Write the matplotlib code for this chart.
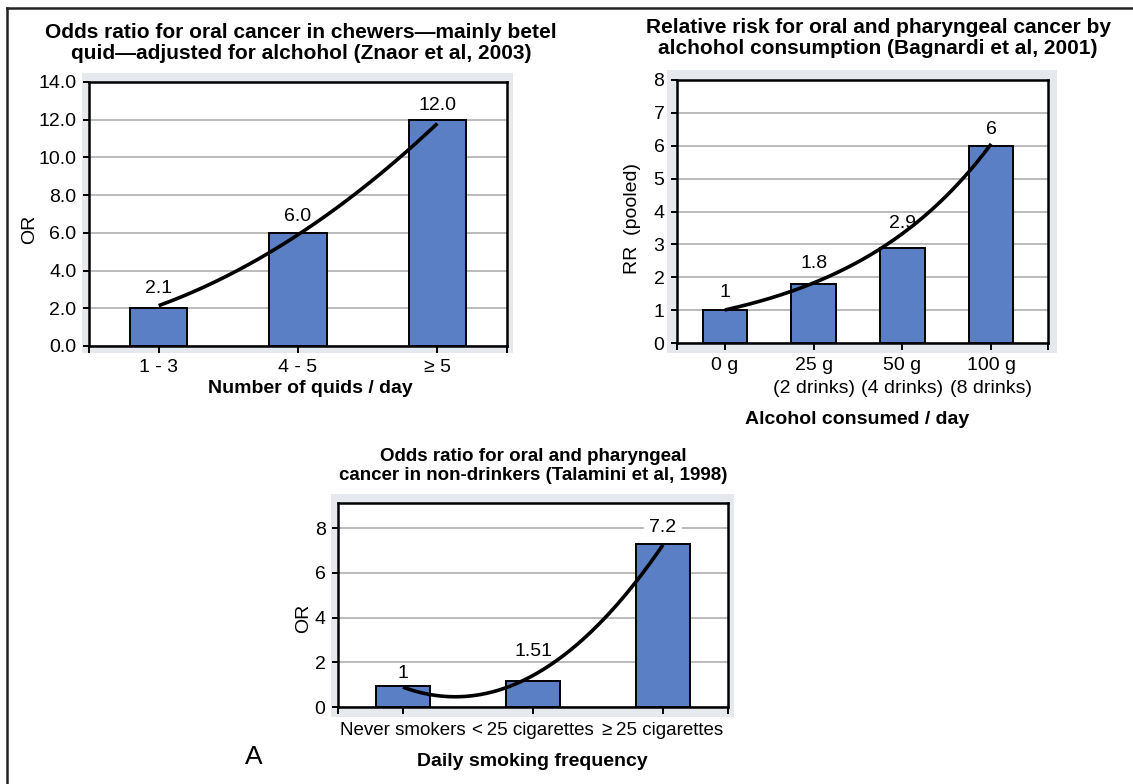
import numpy as np
import matplotlib
matplotlib.use("Agg")
import matplotlib.pyplot as plt
from matplotlib.patches import Rectangle
from matplotlib.lines import Line2D

plt.rcParams['font.family'] = ['Liberation Sans', 'DejaVu Sans']

# data
quid_cats = ['1 - 3', '4 - 5', '\u2265 5']
quid_bars = [2.0, 6.0, 12.0]
quid_labels = ['2.1', '6.0', '12.0']
quid_trend_x = [0, 1, 2]
quid_trend_y = [2.14, 5.9, 11.8]

alc_cats = ['0 g', '25 g\n(2 drinks)', '50 g\n(4 drinks)', '100 g\n(8 drinks)']
alc_bars = [1.0, 1.8, 2.88, 6.0]
alc_labels = ['1', '1.8', '2.9', '6']
alc_trend_x = [0, 1, 2, 3]
alc_trend_y = [1.0, 1.84, 3.33, 6.04]

smk_cats = ['Never smokers', '<\u200925 cigarettes', '\u2265\u200925 cigarettes']
smk_bars = [0.92, 1.18, 7.29]
smk_labels = ['1', '1.51', '7.2']
smk_trend_x = [0, 0.35, 1, 2]
smk_trend_y = [0.84, 0.55, 1.36, 7.26]

W, H = 1133, 784
fig = plt.figure(figsize=(W / 100, H / 100), dpi=100)

BAR = '#5b7fc4'
PANEL = '#e5e9ee'
GRID = '#a8a8a8'


def px_axes(l, t, r, b):
    return fig.add_axes([l / W, 1 - b / H, (r - l) / W, (b - t) / H])


def panel(l, t, r, b):
    fig.add_artist(Rectangle((l / W, 1 - b / H), (r - l) / W, (b - t) / H,
                             transform=fig.transFigure, facecolor=PANEL,
                             edgecolor='none', zorder=0))


def draw_chart(ax, cats, bars, labels, xlim, ylim, yticks, width, fmt,
               tx, ty, kind, lab_off, xpad, tsize=14, boxed=()):
    x = np.arange(len(cats))
    ax.set_zorder(1)
    ax.set_facecolor('white')
    ax.bar(x, bars, width=width, color=BAR, edgecolor='black',
           linewidth=1.4, zorder=2)
    # fitted trend line
    xs = np.linspace(tx[0], tx[-1], 200)
    if kind == 'exp':
        k, c = np.polyfit(tx, np.log(ty), 1)
        ys = np.exp(c + k * xs)
    else:
        ys = np.polyval(np.polyfit(tx, ty, 2), xs)
    ax.plot(xs, ys, color='black', lw=2.6, zorder=4, solid_capstyle='butt')
    for i, (xi, b, s, off) in enumerate(zip(x, bars, labels, lab_off)):
        box = None
        if i in boxed:
            box = dict(boxstyle='square,pad=0.3', fc='white', ec='none')
        ax.annotate(s, (xi, b), xytext=(0, off), textcoords='offset pixels',
                    ha='center', va='center', fontsize=14, zorder=1.5,
                    bbox=box)
    ax.set_xlim(*xlim)
    ax.set_ylim(*ylim)
    ax.set_yticks(yticks)
    ax.set_yticklabels([fmt.format(v) for v in yticks])
    ax.set_xticks(x)
    ax.set_xticklabels(cats, linespacing=1.45)
    ax.set_xticks(list(xlim), minor=True)
    ax.yaxis.grid(True, color=GRID, lw=1.1)
    ax.set_axisbelow(True)
    for sp in ax.spines.values():
        sp.set_linewidth(1.8)
        sp.set_zorder(5)
    ax.tick_params(axis='y', which='major', length=4, width=1.4,
                   labelsize=14, pad=5)
    ax.tick_params(axis='x', which='both', length=5, width=1.4,
                   labelsize=tsize, pad=xpad)
    ax.tick_params(axis='x', which='minor', labelbottom=False)


# chart 1: betel quid
panel(82, 73, 513, 353)
ax1 = px_axes(89, 82, 507, 346)
draw_chart(ax1, quid_cats, quid_bars, quid_labels, (-0.5, 2.5), (0, 14),
           np.arange(0, 15, 2), 0.41, '{:.1f}', quid_trend_x, quid_trend_y,
           'poly', [20, 16, 14], 4)
ax1.set_ylabel('OR', fontsize=14, labelpad=0)
ax1.yaxis.label.set_y(0.443)

# chart 2: alcohol
panel(667, 70, 1057, 353)
ax2 = px_axes(677, 80, 1048, 343)
draw_chart(ax2, alc_cats, alc_bars, alc_labels, (-0.54, 3.64), (0, 8),
           np.arange(0, 9, 1), 0.5, '{:.0f}', alc_trend_x, alc_trend_y,
           'exp', [18, 20, 25, 16], 5)
ax2.set_ylabel('RR  (pooled)', fontsize=14, labelpad=9)
ax2.yaxis.label.set_y(0.475)

# chart 3: smoking
panel(331, 494, 734, 717)
ax3 = px_axes(338, 503, 728, 707)
draw_chart(ax3, smk_cats, smk_bars, smk_labels, (-0.5, 2.5), (0, 9.12),
           np.arange(0, 9, 2), 0.41, '{:.0f}', smk_trend_x, smk_trend_y,
           'poly', [13, 29, 16], 6, tsize=13.5, boxed=(2,))
ax3.set_ylabel('OR', fontsize=14, labelpad=2)
ax3.yaxis.label.set_y(0.436)

# titles and axis titles
def ftext(x, y, s, **kw):
    fig.text(x / W, 1 - y / H, s, ha='center', va='center', **kw)

ftext(301, 43, 'Odds ratio for oral cancer in chewers\u2014mainly betel\n'
      'quid\u2014adjusted for alchohol (Znaor et al, 2003)',
      fontsize=15, fontweight='bold', linespacing=1.15)
ftext(878, 38, 'Relative risk for oral and pharyngeal cancer by\n'
      'alchohol consumption (Bagnardi et al, 2001)',
      fontsize=15, fontweight='bold', linespacing=1.15)
ftext(533, 466, 'Odds ratio for oral and pharyngeal\n'
      'cancer in non-drinkers (Talamini et al, 1998)',
      fontsize=13.5, fontweight='bold', linespacing=1.2)
ftext(310, 388, 'Number of quids / day', fontsize=14, fontweight='bold')
ftext(857, 420, 'Alcohol consumed / day', fontsize=14, fontweight='bold')
ftext(532, 762, 'Daily smoking frequency', fontsize=14, fontweight='bold')
ftext(254, 757, 'A', fontsize=19)

# outer frame (top and left only)
fig.add_artist(Line2D([7 / W, 1], [1 - 8 / H, 1 - 8 / H], color='#222222',
                      lw=1.8, transform=fig.transFigure))
fig.add_artist(Line2D([7 / W, 7 / W], [0, 1 - 8 / H], color='#222222',
                      lw=1.8, transform=fig.transFigure))

fig.savefig('out.png', dpi=100)
